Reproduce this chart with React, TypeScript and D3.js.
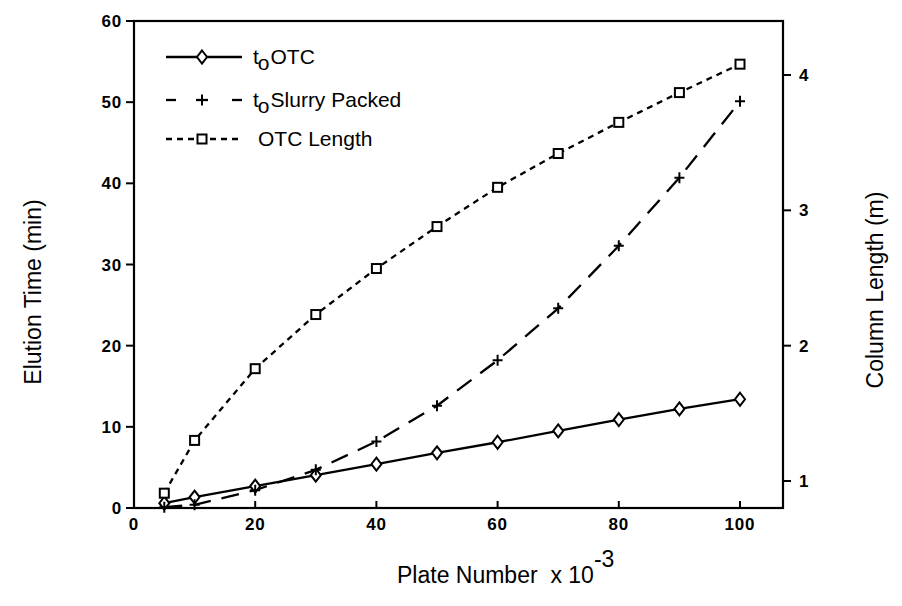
import React from 'react';
import * as d3 from 'd3';

// Plate number (x 10^-3) at which each column was evaluated
const plateNumbers = [5, 10, 20, 30, 40, 50, 60, 70, 80, 90, 100];
// Elution time (min) of an open tubular column
const otcTime = [0.6, 1.35, 2.7, 4.05, 5.4, 6.8, 8.1, 9.5, 10.9, 12.2, 13.4];
// Elution time (min) of a slurry packed column
const slurryTime = [0.1, 0.4, 2.2, 4.7, 8.2, 12.6, 18.2, 24.6, 32.3, 40.7, 50.1];
// Required open tubular column length (m), right axis
const otcLength = [0.91, 1.3, 1.83, 2.23, 2.57, 2.88, 3.17, 3.42, 3.65, 3.87, 4.08];

const xTicks = [0, 20, 40, 60, 80, 100];
const leftTicks = [0, 10, 20, 30, 40, 50, 60];
const rightTicks = [1, 2, 3, 4];

const FONT = '"Liberation Sans", Arial, Helvetica, sans-serif';

const frame = { left: 134, right: 783, top: 21, bottom: 508 };

const x = d3.scaleLinear().domain([0, 100]).range([134, 740]);
const yLeft = d3.scaleLinear().domain([0, 60]).range([frame.bottom, frame.top]);
const yRight = d3.scaleLinear().domain([1, 4]).range([481, 75]);

const Diamond = ({ cx, cy }: { cx: number; cy: number }) => (
  <path
    d={`M${cx},${cy - 6.5}L${cx + 5},${cy}L${cx},${cy + 6.5}L${cx - 5},${cy}Z`}
    fill="#fff"
    stroke="#000"
    strokeWidth={2}
  />
);
const Square = ({ cx, cy }: { cx: number; cy: number }) => (
  <rect x={cx - 4.5} y={cy - 4.5} width={9} height={9} fill="#fff" stroke="#000" strokeWidth={2} />
);
const Plus = ({ cx, cy }: { cx: number; cy: number }) => (
  <path d={`M${cx - 5},${cy}H${cx + 5}M${cx},${cy - 5.5}V${cy + 5.5}`} stroke="#000" strokeWidth={2} />
);

export default function App() {
  const otcLine = d3
    .line<number>()
    .x((_, i) => x(plateNumbers[i]))
    .y((d) => yLeft(d));
  const lengthLine = d3
    .line<number>()
    .x((_, i) => x(plateNumbers[i]))
    .y((d) => yRight(d));

  const legendX0 = 166;
  const legendX1 = 242;
  const legendMid = 202;
  const rows = [57, 100, 139];
  const tickFont = { fontSize: 17, fontWeight: 'bold' as const, letterSpacing: 0.8 };

  return (
    <svg
      width={902}
      height={606}
      style={{ position: 'absolute', left: 0, top: 0, background: '#fff' }}
      fontFamily={FONT}
    >
      <rect width={902} height={606} fill="#fff" />

      {/* frame */}
      <rect
        x={frame.left}
        y={frame.top}
        width={frame.right - frame.left}
        height={frame.bottom - frame.top}
        fill="none"
        stroke="#000"
        strokeWidth={2.2}
      />

      {/* bottom axis: ticks point inward */}
      {xTicks.map((t) => (
        <g key={`x${t}`}>
          <line x1={x(t)} x2={x(t)} y1={frame.bottom} y2={frame.bottom - 7} stroke="#000" strokeWidth={2} />
          <text x={x(t)} y={530} textAnchor="middle" {...tickFont}>
            {t}
          </text>
        </g>
      ))}

      {/* left axis */}
      {leftTicks.map((t) => (
        <g key={`l${t}`}>
          <line x1={frame.left - 8} x2={frame.left} y1={yLeft(t)} y2={yLeft(t)} stroke="#000" strokeWidth={2} />
          <text x={frame.left - 12} y={yLeft(t) + 6} textAnchor="end" {...tickFont}>
            {t}
          </text>
        </g>
      ))}

      {/* right axis */}
      {rightTicks.map((t) => (
        <g key={`r${t}`}>
          <line x1={frame.right} x2={frame.right + 8} y1={yRight(t)} y2={yRight(t)} stroke="#000" strokeWidth={2} />
          <text x={frame.right + 16} y={yRight(t) + 6} textAnchor="start" {...tickFont}>
            {t}
          </text>
        </g>
      ))}

      {/* axis titles */}
      <text transform="translate(41,292) rotate(-90)" textAnchor="middle" fontSize={23}>
        Elution Time (min)
      </text>
      <text transform="translate(883,290) rotate(-90)" textAnchor="middle" fontSize={23}>
        Column Length (m)
      </text>
      <text x={397} y={583} textAnchor="start" fontSize={23}>
        Plate Number{'\u00a0\u00a0'}x 10
        <tspan dy={-16} fontSize={23}>
          -3
        </tspan>
      </text>

      {/* series */}
      <path d={otcLine(otcTime) ?? ''} fill="none" stroke="#000" strokeWidth={2.3} />
      <path d={otcLine(slurryTime) ?? ''} fill="none" stroke="#000" strokeWidth={2.3} strokeDasharray="18,11" />
      <path d={lengthLine(otcLength) ?? ''} fill="none" stroke="#000" strokeWidth={2.3} strokeDasharray="6,5" />

      {otcTime.map((v, i) => (
        <Diamond key={`d${i}`} cx={x(plateNumbers[i])} cy={yLeft(v)} />
      ))}
      {slurryTime.map((v, i) => (
        <Plus key={`p${i}`} cx={x(plateNumbers[i])} cy={yLeft(v)} />
      ))}
      {otcLength.map((v, i) => (
        <Square key={`s${i}`} cx={x(plateNumbers[i])} cy={yRight(v)} />
      ))}

      {/* legend */}
      <g>
        <line x1={legendX0} x2={legendX1} y1={rows[0]} y2={rows[0]} stroke="#000" strokeWidth={2.3} />
        <Diamond cx={legendMid} cy={rows[0]} />
        <text x={253} y={rows[0] + 7} fontSize={21}>
          t
          <tspan dx={-1} dy={6}>o</tspan>
          <tspan dx={1} dy={-6}>OTC</tspan>
        </text>

        <line x1={legendX0} x2={176} y1={rows[1]} y2={rows[1]} stroke="#000" strokeWidth={2.3} />
        <line x1={196} x2={208} y1={rows[1]} y2={rows[1]} stroke="#000" strokeWidth={2.3} />
        <line x1={232} x2={legendX1} y1={rows[1]} y2={rows[1]} stroke="#000" strokeWidth={2.3} />
        <Plus cx={legendMid} cy={rows[1]} />
        <text x={253} y={rows[1] + 7} fontSize={21}>
          t
          <tspan dx={-1} dy={6}>o</tspan>
          <tspan dx={1} dy={-6}>Slurry Packed</tspan>
        </text>

        <line
          x1={legendX0}
          x2={legendX1}
          y1={rows[2]}
          y2={rows[2]}
          stroke="#000"
          strokeWidth={2.3}
          strokeDasharray="6,5"
        />
        <Square cx={legendMid} cy={rows[2]} />
        <text x={258} y={rows[2] + 7} fontSize={21}>
          OTC Length
        </text>
      </g>
    </svg>
  );
}
